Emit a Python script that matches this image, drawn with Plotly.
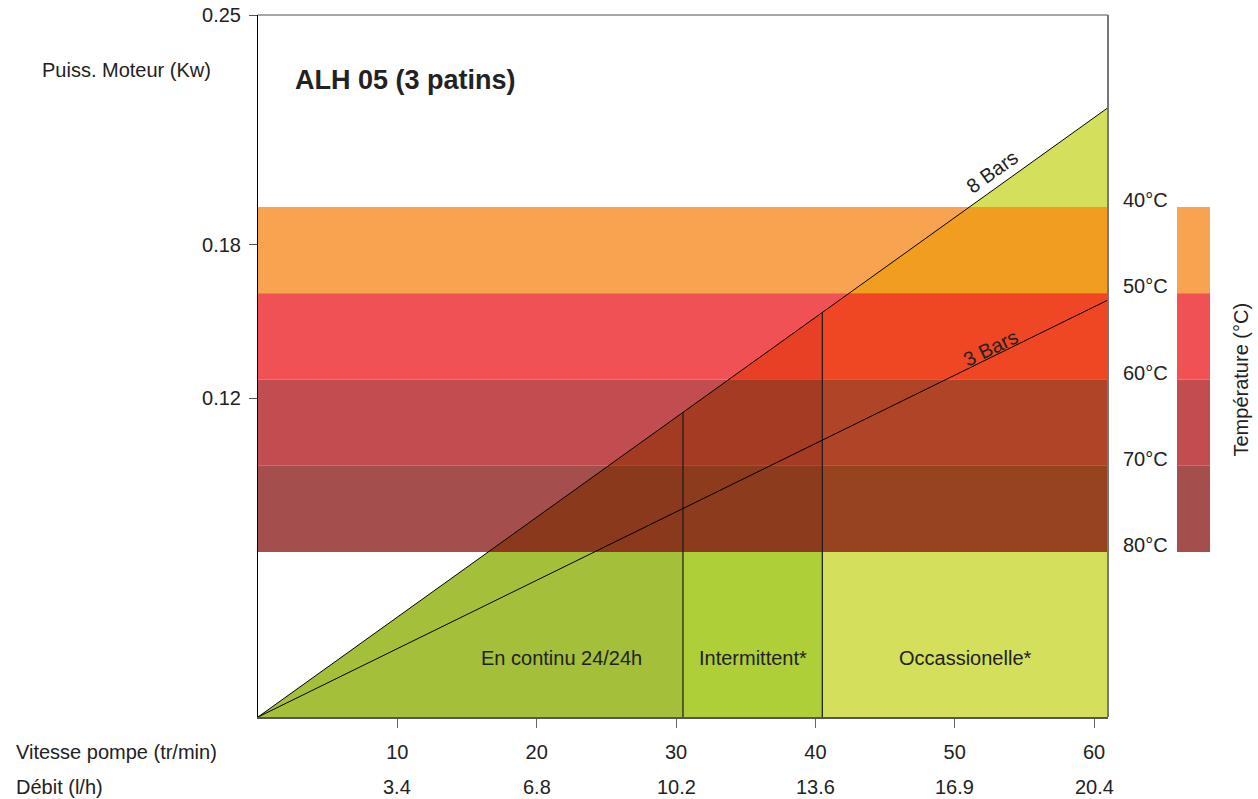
import numpy as np
import plotly.graph_objects as go

# ---------------- data ----------------
speed_ticks = [10, 20, 30, 40, 50, 60]                      # Vitesse pompe (tr/min)
debit_ticks = ["3.4", "6.8", "10.2", "13.6", "16.9", "20.4"]  # Débit (l/h)
power_tick_labels = ["0.12", "0.18", "0.25"]                # Puiss. Moteur (Kw)
power_tick_pos = [0.1136, 0.1681, 0.25]

speed_max = 61.0
power_max = 0.25

bars8_speed = [0, 61.0]
bars8_power = [0, 0.2170]
bars3_speed = [0, 61.0]
bars3_power = [0, 0.1485]

zone_bounds = [0, 30.5, 40.5, 61.0]
zone_labels = ["En continu 24/24h", "Intermittent*", "Occassionelle*"]
zone_label_speed = [21.75, 35.5, 50.75]
zone_colors = ["#A4BF39", "#AECF37", "#D4DF5C"]

temps = [40, 50, 60, 70, 80]
temp_labels = ["40°C", "50°C", "60°C", "70°C", "80°C"]
band_colors = ["#F8A34F", "#EF5155", "#C24D50", "#A44E4E"]
overlap_colors = [
    ["#F09D20", "#E84024", "#A33A22", "#8A391C"],
    ["#F09D20", "#E84024", "#A43B22", "#8C3C1D"],
    ["#F09D20", "#EF4623", "#B04426", "#974320"],
]
temp_scale = [99.13, 17.74]  # temperature at bottom / top of the plot

FONT = "Liberation Sans, Arial, sans-serif"
TXT = "#222222"
FS = 20

W, H = 1258, 799
ML, MT, PW, PH = 258, 15, 952, 702
MR, MB = W - ML - PW, H - MT - PH


def t2p(t):
    return power_max * (temp_scale[0] - t) / (temp_scale[0] - temp_scale[1])


def p8(s):
    return float(np.interp(s, bars8_speed, bars8_power))


def clip_band(poly, ymin, ymax):
    def half(pts, keep, y0):
        out = []
        for i in range(len(pts)):
            cur, prev = pts[i], pts[i - 1]
            def inter(p, q):
                return (p[0] + (q[0] - p[0]) * (y0 - p[1]) / (q[1] - p[1]), y0)
            if keep(cur):
                if not keep(prev):
                    out.append(inter(prev, cur))
                out.append(cur)
            elif keep(prev):
                out.append(inter(prev, cur))
        return out
    pts = half(poly, lambda p: p[1] >= ymin - 1e-12, ymin)
    if pts:
        pts = half(pts, lambda p: p[1] <= ymax + 1e-12, ymax)
    return pts


def poly_trace(pts, color):
    xs = [p[0] for p in pts] + [pts[0][0]]
    ys = [p[1] for p in pts] + [pts[0][1]]
    return go.Scatter(x=xs, y=ys, mode="lines", fill="toself", fillcolor=color,
                      line=dict(width=0, color=color), hoverinfo="skip", showlegend=False)


fig = go.Figure()

# temperature bands (full width)
for i in range(4):
    y_hi, y_lo = t2p(temps[i]), t2p(temps[i + 1])
    fig.add_trace(poly_trace([(0, y_lo), (speed_max, y_lo), (speed_max, y_hi), (0, y_hi)],
                             band_colors[i]))

# operating zones under the 8 Bars curve
zone_polys = []
for z in range(3):
    a, b = zone_bounds[z], zone_bounds[z + 1]
    poly = [(a, 0), (b, 0), (b, p8(b)), (a, p8(a))]
    zone_polys.append(poly)
    fig.add_trace(poly_trace(poly, zone_colors[z]))

# overlaps zone x band
for z in range(3):
    for i in range(4):
        y_hi, y_lo = t2p(temps[i]), t2p(temps[i + 1])
        pts = clip_band(zone_polys[z], y_lo, y_hi)
        if len(pts) >= 3:
            fig.add_trace(poly_trace(pts, overlap_colors[z][i]))

# zone separators
for s in zone_bounds[1:3]:
    fig.add_trace(go.Scatter(x=[s, s], y=[0, p8(s)], mode="lines",
                             line=dict(color="#1a1a1a", width=1.2),
                             hoverinfo="skip", showlegend=False))

# pressure curves
fig.add_trace(go.Scatter(x=bars8_speed, y=bars8_power, mode="lines",
                         line=dict(color="#000000", width=1), hoverinfo="skip", showlegend=False))
fig.add_trace(go.Scatter(x=bars3_speed, y=bars3_power, mode="lines",
                         line=dict(color="#000000", width=1), hoverinfo="skip", showlegend=False))

# temperature legend strip
fig.add_trace(go.Bar(x=[0, 0, 0, 0],
                     base=[t2p(temps[i + 1]) for i in range(4)],
                     y=[t2p(temps[i]) - t2p(temps[i + 1]) for i in range(4)],
                     marker=dict(color=band_colors, line=dict(width=0)),
                     width=1, xaxis="x2", yaxis="y", hoverinfo="skip", showlegend=False))


def px_x(px):   # window pixel -> paper x
    return (px - ML) / PW


def px_y(py):   # window pixel -> paper y
    return (MT + PH - py) / PH


def font(size=FS):
    return dict(size=size, color=TXT, family=FONT)


annotations = []
annotations.append(dict(text="<b>ALH 05 (3 patins)</b>", xref="paper", yref="paper",
                        x=px_x(293), y=px_y(80), xanchor="left", yanchor="middle",
                        showarrow=False, font=font(27)))
annotations.append(dict(text="Puiss. Moteur (Kw)", xref="paper", yref="paper",
                        x=px_x(213), y=px_y(70), xanchor="right", yanchor="middle",
                        showarrow=False, font=font()))
annotations.append(dict(text="Vitesse pompe (tr/min)", xref="paper", yref="paper",
                        x=px_x(14), y=px_y(752), xanchor="left", yanchor="middle",
                        showarrow=False, font=font()))
annotations.append(dict(text="Débit (l/h)", xref="paper", yref="paper",
                        x=px_x(14), y=px_y(787), xanchor="left", yanchor="middle",
                        showarrow=False, font=font()))
for s, d in zip(speed_ticks, debit_ticks):
    annotations.append(dict(text=d, xref="x", yref="paper", x=s, y=px_y(787),
                            xanchor="center", yanchor="middle", showarrow=False, font=font()))
for lbl, s in zip(zone_labels, zone_label_speed):
    annotations.append(dict(text=lbl, xref="x", yref="paper", x=s, y=px_y(658),
                            xanchor="center", yanchor="middle", showarrow=False, font=font()))
ang8 = np.degrees(np.arctan(0.717))
ang3 = np.degrees(np.arctan(0.489))
annotations.append(dict(text="8 Bars", xref="x", yref="y", x=53.3, y=p8(53.3),
                        xshift=-9, yshift=13, textangle=-ang8, showarrow=False, font=font()))
s3 = 52.9
annotations.append(dict(text="3 Bars", xref="x", yref="y", x=s3,
                        y=float(np.interp(s3, bars3_speed, bars3_power)),
                        xshift=-4, yshift=7, textangle=-ang3, showarrow=False, font=font()))
for t, lbl in zip(temps, temp_labels):
    annotations.append(dict(text=lbl, xref="paper", yref="y", x=px_x(1170), y=t2p(t),
                            yshift=7, xanchor="right", yanchor="middle", showarrow=False,
                            font=font()))
annotations.append(dict(text="Température (°C)", xref="paper", yref="y", x=px_x(1240),
                        y=t2p(60), textangle=-90, xanchor="center", yanchor="middle",
                        showarrow=False, font=font()))

shapes = [
    dict(type="line", xref="x domain", yref="y domain", x0=0, x1=1, y0=1, y1=1,
         line=dict(color="#888888", width=1.5), layer="above"),
    dict(type="line", xref="x domain", yref="y domain", x0=1, x1=1, y0=0, y1=1,
         line=dict(color="#777777", width=2), layer="above"),
]

fig.update_layout(
    width=W, height=H,
    margin=dict(l=ML, r=MR, t=MT, b=MB, autoexpand=False),
    paper_bgcolor="white", plot_bgcolor="white",
    showlegend=False, barmode="overlay",
    font=dict(family=FONT, color=TXT, size=FS),
    xaxis=dict(domain=[0, 850 / 952], range=[0, speed_max], tickvals=speed_ticks,
               ticktext=[str(s) for s in speed_ticks], ticks="outside", ticklen=9,
               tickcolor="#666666", tickwidth=1, showline=True, linecolor="#555555",
               linewidth=2, showgrid=False, zeroline=False, ticklabelstandoff=7,
               automargin=False, tickfont=font()),
    yaxis=dict(range=[0, power_max], tickvals=power_tick_pos, ticktext=power_tick_labels,
               ticks="outside", ticklen=8, tickcolor="#555555", showline=True,
               linecolor="#000000", linewidth=1, showgrid=False, zeroline=False,
               ticklabelstandoff=4, automargin=False, ticklabeloverflow="allow",
               tickfont=font()),
    xaxis2=dict(domain=[919 / 952, 1.0], range=[-0.5, 0.5], visible=False, anchor="y"),
    annotations=annotations,
    shapes=shapes,
)

# the page's default 8px body margin is removed so the figure fills the window
fig.write_html("out.html", config={"displayModeBar": False},
               post_script="document.body.style.margin='0px';")
